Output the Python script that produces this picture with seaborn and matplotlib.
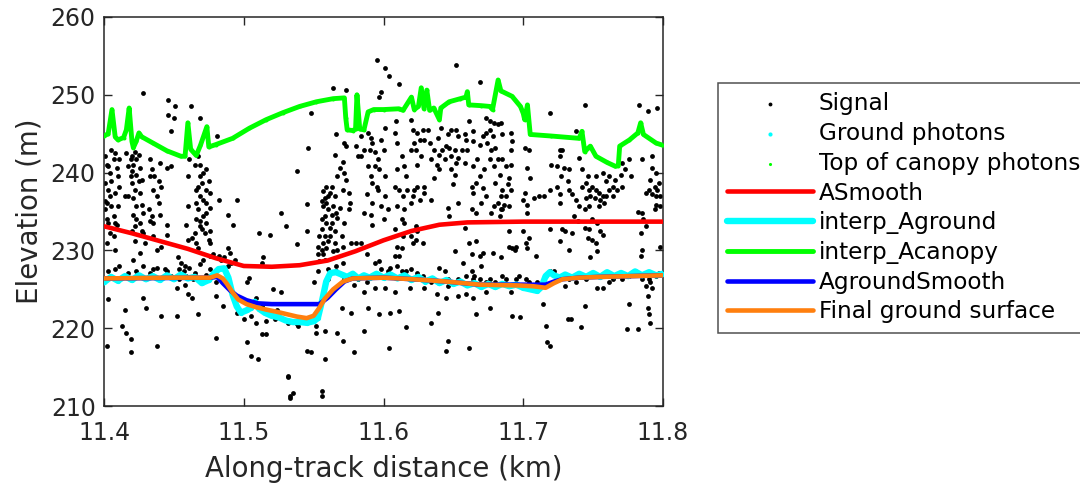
import numpy as np
import pandas as pd
import seaborn as sns
import matplotlib
matplotlib.use('Agg')
import matplotlib.pyplot as plt

# Signal photons (along-track km, elevation m)
signal_left = [
    (11.428, 250.2), (11.446, 249.3), (11.451, 248.6), (11.446, 247.4), (11.450, 247.0), (11.448, 245.3),
    (11.462, 248.5), (11.469, 247.0), (11.481, 244.7),
    (11.401, 242.1), (11.402, 241.0), (11.405, 242.9), (11.407, 241.7), (11.404, 239.9), (11.401, 238.7),
    (11.403, 237.8), (11.408, 237.4), (11.402, 236.1), (11.401, 235.3), (11.407, 234.4), (11.403, 233.5),
    (11.409, 233.3), (11.407, 231.8), (11.402, 231.0), (11.408, 230.1), (11.404, 232.3), (11.405, 235.7),
    (11.410, 239.5), (11.411, 238.2),
    (11.416, 242.5), (11.420, 242.1), (11.422, 242.7), (11.425, 242.3), (11.417, 240.8), (11.421, 241.0),
    (11.426, 240.6), (11.419, 239.5), (11.423, 239.7), (11.427, 239.1), (11.420, 238.7), (11.422, 237.8),
    (11.426, 237.4), (11.417, 237.0), (11.415, 237.0), (11.423, 235.7), (11.428, 234.8), (11.421, 234.6),
    (11.426, 233.5), (11.422, 233.1), (11.428, 232.3), (11.427, 232.5), (11.422, 231.2), (11.426, 229.7),
    (11.421, 228.8),
    (11.433, 241.7), (11.434, 240.4), (11.440, 241.2), (11.445, 240.6), (11.448, 240.8), (11.436, 239.5),
    (11.439, 238.9), (11.433, 239.5), (11.435, 237.8), (11.441, 238.2), (11.438, 237.0), (11.439, 236.1),
    (11.440, 234.6), (11.434, 234.4), (11.433, 233.8), (11.435, 233.5), (11.445, 233.3), (11.432, 235.3),
    (11.445, 232.0), (11.429, 231.0), (11.435, 231.8), (11.441, 230.5), (11.438, 230.1),
    (11.461, 241.7), (11.460, 239.5), (11.467, 242.1), (11.469, 241.0), (11.469, 239.5), (11.470, 238.7),
    (11.466, 237.8), (11.473, 240.4), (11.475, 238.9), (11.476, 237.4), (11.469, 237.0), (11.466, 236.1),
    (11.473, 236.1), (11.476, 235.5), (11.471, 234.4), (11.460, 235.7), (11.459, 233.3), (11.466, 234.0),
    (11.469, 233.8), (11.460, 231.4), (11.469, 233.1), (11.472, 232.3), (11.475, 231.4), (11.476, 231.0),
    (11.467, 230.3), (11.463, 231.6),
    (11.482, 236.5), (11.495, 236.5), (11.489, 234.6), (11.492, 233.3), (11.527, 234.8), (11.511, 232.3),
    (11.519, 232.0),
    (11.453, 229.1), (11.455, 228.4), (11.458, 228.0), (11.454, 227.6), (11.461, 227.8), (11.457, 227.3),
    (11.465, 227.1), (11.469, 228.2), (11.471, 228.8), (11.476, 229.3), (11.478, 229.5), (11.482, 229.3),
    (11.484, 228.8), (11.486, 229.1), (11.489, 230.3), (11.490, 229.7), (11.491, 228.4), (11.489, 228.0),
    (11.494, 228.8), (11.438, 227.8), (11.435, 227.6), (11.444, 227.6), (11.428, 228.0), (11.411, 228.0),
    (11.408, 227.6), (11.403, 227.3), (11.504, 226.5), (11.502, 225.9), (11.514, 229.1), (11.513, 228.4),
    (11.403, 223.7), (11.415, 222.4), (11.428, 223.9), (11.430, 222.6), (11.441, 221.6), (11.452, 221.6),
    (11.467, 221.8), (11.460, 224.4), (11.463, 223.9), (11.452, 225.2), (11.458, 225.6), (11.480, 225.9),
    (11.480, 224.1), (11.485, 222.9), (11.495, 222.0), (11.500, 221.2), (11.505, 221.6), (11.509, 220.7),
    (11.516, 220.9), (11.522, 221.2), (11.524, 222.4), (11.521, 225.0), (11.513, 222.9), (11.509, 223.9),
    (11.413, 220.3), (11.416, 219.4), (11.419, 218.6), (11.419, 216.9), (11.402, 217.7), (11.438, 217.7),
    (11.480, 218.8), (11.502, 218.2), (11.505, 216.4), (11.510, 216.0), (11.513, 219.2), (11.516, 219.2),
    (11.532, 213.9), (11.533, 211.3), (11.527, 224.6),
    (11.404, 237.0), (11.401, 236.3), (11.408, 233.5), (11.410, 235.7), (11.402, 234.0), (11.405, 238.9),
    (11.403, 240.8), (11.409, 240.6), (11.408, 242.5), (11.411, 241.7),
    (11.419, 241.7), (11.423, 241.7), (11.420, 240.2), (11.425, 238.9), (11.421, 236.7), (11.427, 235.9),
    (11.423, 234.0), (11.420, 232.5),
    (11.465, 241.0), (11.471, 239.9), (11.467, 238.2), (11.473, 237.8), (11.471, 236.5), (11.467, 235.3),
    (11.473, 234.8), (11.470, 232.7), (11.465, 232.3), (11.473, 233.5), (11.476, 232.5), (11.466, 231.0),
    (11.445, 227.3), (11.448, 226.7), (11.433, 227.1), (11.423, 227.3), (11.417, 227.1), (11.454, 226.3),
    (11.459, 226.7), (11.464, 226.3), (11.473, 226.9), (11.476, 227.6),
]

signal_mid = [
    (11.595, 254.5), (11.601, 253.4), (11.604, 252.4), (11.611, 251.4), (11.652, 253.8), (11.564, 250.9),
    (11.573, 250.6), (11.598, 250.4), (11.597, 249.7), (11.548, 247.6), (11.546, 243.2), (11.538, 240.2),
    (11.545, 236.0), (11.530, 233.1), (11.545, 232.5), (11.538, 230.8),
    (11.559, 238.2), (11.563, 238.2), (11.557, 237.6), (11.562, 237.4), (11.558, 236.7), (11.565, 237.0),
    (11.571, 237.8), (11.575, 237.4), (11.576, 236.1), (11.575, 235.3), (11.559, 236.1), (11.557, 235.7),
    (11.560, 235.3), (11.558, 234.4), (11.563, 234.6), (11.566, 234.8), (11.567, 234.2), (11.572, 233.5),
    (11.559, 233.5), (11.562, 232.9), (11.565, 232.5), (11.556, 232.7), (11.554, 231.8), (11.557, 231.0),
    (11.553, 230.5), (11.556, 230.1), (11.560, 231.2), (11.564, 229.9), (11.557, 229.5), (11.554, 228.6),
    (11.570, 231.8), (11.571, 230.5), (11.567, 230.1), (11.577, 231.0),
    (11.566, 244.9), (11.572, 243.8), (11.573, 243.4), (11.565, 242.3), (11.571, 241.4), (11.569, 240.6),
    (11.572, 239.9), (11.567, 239.5), (11.573, 239.1), (11.580, 243.4), (11.582, 242.1), (11.586, 242.9),
    (11.584, 244.7), (11.589, 245.1), (11.591, 244.4), (11.592, 243.8), (11.598, 244.2), (11.600, 242.9),
    (11.596, 241.7), (11.594, 240.8), (11.597, 240.4), (11.591, 239.5), (11.592, 238.7), (11.595, 238.2),
    (11.588, 237.2), (11.592, 236.1), (11.598, 235.7), (11.601, 237.0), (11.586, 234.8), (11.591, 234.6),
    (11.600, 234.0), (11.584, 231.0), (11.588, 229.5), (11.592, 233.3), (11.580, 231.0), (11.609, 246.6),
    (11.601, 245.7), (11.608, 245.1), (11.610, 243.8), (11.613, 242.1), (11.610, 240.4), (11.608, 238.2),
    (11.611, 237.8), (11.614, 237.0), (11.610, 235.7), (11.620, 246.8), (11.621, 245.5), (11.624, 245.1),
    (11.628, 245.5), (11.632, 245.5), (11.626, 244.2), (11.623, 242.9), (11.627, 242.1), (11.620, 242.9),
    (11.624, 241.0), (11.622, 237.8), (11.621, 237.0), (11.620, 236.1), (11.629, 238.2), (11.624, 238.2),
    (11.626, 236.5), (11.629, 237.4), (11.615, 240.8), (11.634, 241.7), (11.636, 239.3), (11.638, 241.0),
    (11.640, 242.3), (11.642, 242.9), (11.645, 243.4), (11.639, 244.4), (11.641, 245.7), (11.646, 244.9),
    (11.648, 245.5), (11.652, 245.5), (11.653, 244.7), (11.651, 242.9), (11.648, 242.1), (11.647, 243.2),
    (11.644, 241.7), (11.652, 241.2), (11.653, 241.9), (11.659, 244.2), (11.661, 246.6), (11.660, 242.9),
    (11.658, 241.2), (11.651, 239.7), (11.650, 238.5), (11.653, 236.1), (11.646, 235.5), (11.647, 234.4),
    (11.613, 234.0), (11.615, 235.3), (11.614, 231.8), (11.610, 230.5), (11.613, 230.3), (11.611, 229.3),
    (11.608, 232.7), (11.608, 229.3), (11.623, 233.1), (11.624, 232.5), (11.628, 231.0), (11.621, 231.0),
    (11.620, 231.8), (11.658, 232.9), (11.651, 229.9), (11.657, 228.4), (11.661, 231.0),
    (11.553, 227.3), (11.560, 227.6), (11.566, 228.0), (11.571, 228.4), (11.566, 227.3), (11.572, 226.3),
    (11.582, 226.3), (11.588, 225.9), (11.594, 228.4), (11.597, 228.6), (11.598, 227.6), (11.603, 227.3),
    (11.605, 227.8), (11.610, 228.0), (11.613, 227.3), (11.616, 227.3), (11.620, 227.6), (11.624, 227.1),
    (11.628, 226.7), (11.634, 225.9), (11.640, 227.8), (11.644, 227.3), (11.646, 226.3), (11.653, 226.3),
    (11.659, 226.7), (11.663, 227.3), (11.579, 225.6), (11.586, 224.6), (11.594, 225.2), (11.601, 225.2),
    (11.608, 224.6), (11.619, 225.2), (11.629, 225.2), (11.646, 225.4), (11.651, 225.9), (11.638, 224.4),
    (11.645, 223.9), (11.653, 224.1), (11.659, 224.4), (11.550, 225.9), (11.560, 226.3),
    (11.539, 220.3), (11.532, 220.7), (11.538, 220.5), (11.552, 220.3), (11.558, 219.7), (11.552, 219.4),
    (11.567, 219.4), (11.570, 222.6), (11.577, 222.0), (11.589, 222.6), (11.597, 221.8), (11.605, 222.0),
    (11.611, 222.2), (11.634, 220.7), (11.639, 222.0), (11.616, 220.1), (11.586, 219.7), (11.571, 218.4),
    (11.579, 216.9), (11.545, 217.1), (11.548, 216.9), (11.558, 216.0), (11.604, 217.5), (11.646, 218.4),
    (11.645, 217.1), (11.661, 217.5), (11.532, 213.7), (11.535, 211.7), (11.533, 211.1), (11.556, 212.0),
    (11.556, 211.3),
    (11.556, 236.3), (11.560, 237.0), (11.564, 235.7), (11.569, 235.5), (11.563, 233.5), (11.556, 234.0),
    (11.558, 231.8), (11.562, 231.8), (11.565, 231.0), (11.559, 230.3), (11.558, 228.8), (11.553, 229.5),
    (11.590, 242.9), (11.584, 242.1), (11.594, 242.7), (11.589, 240.8), (11.601, 239.5), (11.596, 237.8),
    (11.603, 235.3), (11.616, 239.5), (11.617, 237.8), (11.622, 243.8), (11.633, 243.8), (11.636, 242.9),
    (11.640, 240.4), (11.648, 240.4), (11.656, 242.9), (11.658, 244.9), (11.629, 244.2), (11.634, 236.5),
    (11.615, 233.5), (11.623, 231.4),
]

signal_right = [
    (11.669, 251.6), (11.744, 248.7), (11.783, 248.7), (11.789, 247.9), (11.796, 248.3), (11.719, 247.7),
    (11.738, 245.3),
    (11.673, 247.0), (11.676, 246.6), (11.679, 246.4), (11.682, 246.2), (11.684, 246.4), (11.676, 245.5),
    (11.673, 245.1), (11.678, 244.7), (11.671, 244.7), (11.664, 245.3), (11.664, 244.0), (11.669, 243.6),
    (11.674, 243.8), (11.677, 242.9), (11.680, 243.2), (11.685, 244.9), (11.691, 245.1), (11.692, 244.0),
    (11.691, 242.9), (11.685, 241.7), (11.682, 241.7), (11.679, 240.8), (11.688, 240.8), (11.691, 241.0),
    (11.683, 239.7), (11.690, 239.3), (11.689, 238.5), (11.691, 237.8), (11.685, 237.8), (11.684, 237.0),
    (11.682, 236.1), (11.679, 235.7), (11.685, 235.3), (11.683, 234.4), (11.677, 234.8), (11.673, 237.0),
    (11.671, 238.0), (11.666, 238.7), (11.664, 240.8), (11.669, 239.5), (11.663, 238.2), (11.664, 237.4),
    (11.663, 235.3), (11.666, 234.8), (11.701, 243.2), (11.704, 242.9), (11.703, 240.6), (11.705, 239.3),
    (11.701, 237.4), (11.700, 236.5), (11.703, 235.9), (11.703, 234.8), (11.708, 236.7), (11.711, 237.0),
    (11.715, 237.0), (11.719, 237.8), (11.720, 241.0), (11.726, 242.9), (11.728, 242.9), (11.726, 242.1),
    (11.724, 240.8), (11.729, 240.6), (11.733, 240.4), (11.727, 239.5), (11.732, 238.9), (11.724, 238.2),
    (11.726, 237.2), (11.733, 237.8), (11.735, 237.2), (11.726, 236.1), (11.738, 236.5), (11.740, 235.7),
    (11.744, 235.3), (11.740, 241.9), (11.742, 240.4), (11.746, 239.5), (11.745, 238.7), (11.749, 238.2),
    (11.752, 237.8), (11.754, 237.4), (11.757, 237.0), (11.758, 236.1), (11.755, 236.5), (11.748, 237.0),
    (11.745, 236.7), (11.747, 235.7), (11.752, 239.5), (11.757, 239.9), (11.759, 238.9), (11.761, 239.5),
    (11.761, 237.8), (11.764, 237.0), (11.766, 239.1), (11.770, 239.7), (11.771, 238.2), (11.773, 240.4),
    (11.771, 241.2), (11.776, 241.7), (11.777, 239.5), (11.785, 241.7), (11.792, 242.1), (11.792, 240.6),
    (11.795, 239.9), (11.791, 239.1), (11.794, 238.2), (11.796, 237.8), (11.792, 237.2), (11.788, 237.4),
    (11.798, 237.0), (11.795, 235.9), (11.785, 234.8), (11.786, 234.0), (11.782, 235.0), (11.736, 234.4),
    (11.739, 233.8), (11.728, 232.7), (11.730, 232.5), (11.735, 232.3), (11.726, 231.2), (11.733, 230.1),
    (11.744, 232.9), (11.746, 231.6), (11.749, 231.4), (11.752, 231.0), (11.755, 232.5), (11.757, 232.0),
    (11.753, 229.9), (11.748, 229.1), (11.753, 233.5), (11.749, 234.0), (11.747, 232.7), (11.690, 232.5),
    (11.700, 232.5), (11.704, 231.6), (11.702, 231.0), (11.703, 230.3), (11.690, 230.5), (11.692, 230.3),
    (11.694, 230.1), (11.695, 230.5), (11.678, 229.7), (11.684, 229.1), (11.671, 229.7), (11.669, 229.3),
    (11.666, 231.2), (11.663, 229.5), (11.709, 229.3), (11.719, 232.7), (11.784, 232.3), (11.785, 230.1),
    (11.784, 229.3), (11.788, 233.1), (11.798, 230.5),
    (11.664, 226.3), (11.669, 226.3), (11.673, 225.9), (11.665, 226.7), (11.680, 225.9), (11.688, 226.3),
    (11.695, 226.3), (11.697, 226.7), (11.704, 225.9), (11.710, 225.9), (11.719, 227.3), (11.722, 227.3),
    (11.724, 226.3), (11.730, 225.4), (11.738, 225.9), (11.745, 226.3), (11.751, 226.7), (11.753, 225.2),
    (11.757, 225.2), (11.761, 225.9), (11.764, 226.3), (11.771, 226.3), (11.778, 227.1), (11.780, 227.3),
    (11.785, 226.3), (11.792, 227.1), (11.797, 227.1), (11.788, 225.4), (11.790, 226.3), (11.670, 228.0),
    (11.791, 225.9),
    (11.664, 223.9), (11.673, 224.6), (11.676, 222.6), (11.666, 221.8), (11.691, 224.6), (11.692, 221.6),
    (11.698, 221.4), (11.714, 223.1), (11.716, 220.3), (11.717, 218.2), (11.719, 217.7), (11.744, 222.9),
    (11.732, 221.2), (11.734, 221.2), (11.741, 220.1), (11.776, 223.1), (11.774, 219.9), (11.782, 219.9),
    (11.789, 222.6), (11.790, 221.8), (11.791, 220.7), (11.789, 224.1), (11.792, 225.2),
    (11.676, 241.7), (11.672, 240.4), (11.680, 238.7), (11.688, 237.0), (11.686, 235.9), (11.684, 235.3),
    (11.690, 235.7), (11.667, 241.7), (11.670, 236.1), (11.742, 238.2), (11.747, 237.8), (11.751, 236.7),
    (11.754, 235.7), (11.759, 237.0), (11.764, 238.2), (11.767, 237.8), (11.795, 237.0), (11.797, 238.7),
    (11.790, 237.8), (11.798, 235.7), (11.794, 235.3),
    (11.676, 226.3), (11.685, 226.7), (11.702, 226.3), (11.733, 226.3), (11.740, 226.7), (11.757, 226.7),
    (11.769, 227.1), (11.776, 226.7), (11.795, 226.7),
]

# ASmooth (red)
asmooth_x = [11.40, 11.42, 11.44, 11.46, 11.48, 11.50, 11.52, 11.54, 11.56, 11.58, 11.60, 11.62, 11.64,
             11.66, 11.70, 11.80]
asmooth_y = [233.1, 232.2, 231.2, 230.2, 229.0, 228.0, 227.9, 228.1, 228.7, 229.9, 231.3, 232.5, 233.3,
             233.6, 233.7, 233.7]

# interp_Aground (cyan), also the ground photons
aground_x = [11.400, 11.405, 11.410, 11.415, 11.420, 11.425, 11.430, 11.435, 11.440, 11.445, 11.450,
             11.455, 11.460, 11.465, 11.470, 11.475, 11.478, 11.482, 11.486, 11.489, 11.492, 11.495,
             11.498, 11.502, 11.505, 11.508, 11.511, 11.515, 11.520, 11.525, 11.530, 11.535, 11.540,
             11.545, 11.550, 11.553, 11.556, 11.559, 11.562, 11.566, 11.570, 11.574, 11.578, 11.582,
             11.586, 11.590, 11.595, 11.600, 11.605, 11.610, 11.615, 11.620, 11.625, 11.630, 11.635,
             11.640, 11.645, 11.650, 11.655, 11.660, 11.665, 11.670, 11.675, 11.680, 11.685, 11.690,
             11.695, 11.700, 11.705, 11.710, 11.713, 11.716, 11.719, 11.722, 11.726, 11.730, 11.735,
             11.740, 11.745, 11.750, 11.755, 11.760, 11.765, 11.770, 11.775, 11.780, 11.785, 11.790,
             11.795, 11.800]
aground_y = [225.9, 226.6, 226.1, 226.7, 226.2, 226.8, 226.3, 226.7, 226.2, 226.8, 226.3,
             226.9, 226.4, 226.6, 225.8, 226.2, 226.9, 227.6, 227.7, 226.5, 224.3, 222.8,
             222.0, 222.3, 222.6, 223.4, 222.5, 222.0, 221.6, 221.4, 221.0, 220.8, 220.8,
             220.7, 220.9, 221.3, 223.5, 226.0, 227.1, 227.2, 226.9, 226.6, 227.0, 226.4,
             226.8, 226.5, 227.0, 226.5, 226.9, 226.4, 226.8, 226.2, 226.6, 226.0, 226.4,
             225.8, 226.2, 225.7, 226.0, 225.5, 225.8, 225.3, 225.7, 225.3, 225.7, 225.4,
             225.6, 225.2, 225.0, 224.8, 225.3, 226.7, 227.2, 226.8, 226.5, 226.9, 226.5,
             227.0, 226.6, 227.1, 226.6, 227.2, 226.7, 227.1, 226.7, 227.3, 226.8, 227.2,
             226.8, 227.0]

# interp_Acanopy (green), also the top of canopy photons
acanopy_x = [11.400, 11.403, 11.4057, 11.408, 11.410, 11.414, 11.416, 11.418, 11.420, 11.421, 11.423,
             11.425, 11.427, 11.435, 11.445, 11.455, 11.458, 11.460, 11.462, 11.466, 11.469, 11.4736,
             11.475, 11.480, 11.492, 11.504, 11.516, 11.528, 11.540, 11.552, 11.564, 11.572, 11.573,
             11.574, 11.578, 11.580, 11.581, 11.583, 11.586, 11.589, 11.593, 11.600, 11.611, 11.614,
             11.620, 11.622, 11.625, 11.627, 11.629, 11.631, 11.633, 11.636, 11.640, 11.641, 11.647,
             11.655, 11.659, 11.660, 11.661, 11.670, 11.676, 11.678, 11.682, 11.684, 11.692, 11.698,
             11.700, 11.701, 11.703, 11.705, 11.720, 11.740, 11.742, 11.744, 11.748, 11.752, 11.760,
             11.766, 11.768, 11.769, 11.776, 11.782, 11.784, 11.786, 11.795, 11.800]
acanopy_y = [244.7, 245.0, 248.1, 244.6, 244.2, 244.5, 245.5, 248.3, 244.0, 243.2, 244.0,
             245.1, 244.6, 243.8, 242.8, 242.1, 242.1, 246.4, 243.0, 242.2, 243.5, 245.9,
             243.3, 243.6, 244.4, 245.7, 246.8, 247.7, 248.5, 249.1, 249.5, 249.6, 247.0,
             245.5, 245.4, 245.6, 250.0, 245.6, 245.5, 247.8, 248.1, 248.1, 248.2, 248.0,
             249.7, 248.1, 248.5, 250.9, 248.2, 250.6, 248.0, 248.3, 246.8, 248.3, 249.1,
             249.5, 249.7, 250.4, 248.7, 248.6, 248.5, 248.1, 251.9, 250.5, 249.8, 248.5,
             247.6, 246.8, 248.7, 244.9, 244.7, 244.4, 245.3, 242.7, 243.4, 242.1, 241.3,
             240.8, 240.9, 243.4, 244.2, 245.1, 246.4, 244.9, 243.8, 243.5]

# AgroundSmooth (blue)
smooth_x = [11.400, 11.476, 11.481, 11.485, 11.490, 11.495, 11.502, 11.510, 11.520, 11.549, 11.554,
            11.560, 11.566, 11.572, 11.578, 11.600, 11.621, 11.645, 11.669, 11.697, 11.707, 11.716,
            11.722, 11.728, 11.740, 11.755, 11.800]
smooth_y = [226.4, 226.5, 226.6, 225.8, 224.9, 224.2, 223.6, 223.2, 223.1, 223.1, 223.1,
            223.9, 225.0, 226.0, 226.4, 226.5, 226.3, 226.0, 225.6, 225.6, 225.6, 225.6,
            226.0, 226.3, 226.5, 226.6, 226.8]

# Final ground surface (orange)
final_x = [11.400, 11.450, 11.476, 11.481, 11.485, 11.488, 11.492, 11.496, 11.502, 11.509, 11.516,
           11.524, 11.531, 11.538, 11.545, 11.550, 11.554, 11.558, 11.564, 11.571, 11.578, 11.600,
           11.621, 11.645, 11.669, 11.697, 11.707, 11.716, 11.722, 11.728, 11.740, 11.755, 11.800]
final_y = [226.4, 226.5, 226.5, 226.8, 226.4, 225.7, 224.6, 223.7, 223.1, 222.7, 222.4,
           222.1, 221.8, 221.5, 221.3, 221.6, 222.6, 223.8, 225.0, 226.0, 226.4, 226.5,
           226.3, 226.0, 225.6, 225.5, 225.4, 225.2, 225.8, 226.3, 226.5, 226.6, 226.8]

signal = pd.DataFrame(signal_left + signal_mid + signal_right, columns=['dist', 'elev'])

sns.set_theme(style='ticks')
plt.rcParams['font.family'] = ['DejaVu Sans']
ink = '#262626'

fig = plt.figure(figsize=(10.8, 4.84), dpi=100)
ax = fig.add_axes([0.0963, 0.161, 0.5176, 0.804])

sns.scatterplot(data=signal, x='dist', y='elev', color='black', s=12, linewidth=0,
                label='Signal', ax=ax, zorder=2)
sns.scatterplot(x=aground_x, y=aground_y, color='cyan', s=14, linewidth=0,
                label='Ground photons', ax=ax, zorder=3)
sns.scatterplot(x=acanopy_x, y=acanopy_y, color='#00ff00', s=8, linewidth=0,
                label='Top of canopy photons', ax=ax, zorder=3)
sns.lineplot(x=asmooth_x, y=asmooth_y, color='red', linewidth=3.3, sort=False,
             label='ASmooth', ax=ax, zorder=3)
sns.lineplot(x=aground_x, y=aground_y, color='cyan', linewidth=4.6, sort=False,
             label='interp_Aground', ax=ax, zorder=3)
sns.lineplot(x=acanopy_x, y=acanopy_y, color='#00ff00', linewidth=3.5, sort=False,
             label='interp_Acanopy', ax=ax, zorder=3)
sns.lineplot(x=smooth_x, y=smooth_y, color='#0000ff', linewidth=3.3, sort=False,
             label='AgroundSmooth', ax=ax, zorder=4)
sns.lineplot(x=final_x, y=final_y, color='#ff7f0e', linewidth=3.3, sort=False,
             label='Final ground surface', ax=ax, zorder=5)

ax.set_xlim(11.4, 11.8)
ax.set_ylim(210, 260)
ax.set_xticks([11.4, 11.5, 11.6, 11.7, 11.8])
ax.set_xticklabels(['11.4', '11.5', '11.6', '11.7', '11.8'])
ax.set_yticks(np.arange(210, 261, 10))
ax.tick_params(direction='in', top=True, right=True, length=6, width=1, colors=ink,
               labelsize=17)
ax.tick_params(axis='y', pad=6)
ax.tick_params(axis='x', pad=11)
for sp in ax.spines.values():
    sp.set_visible(True)
    sp.set_color(ink)
    sp.set_linewidth(1.1)
ax.set_xlabel('Along-track distance (km)', fontsize=19.9, color=ink, labelpad=7)
ax.set_ylabel('Elevation (m)', fontsize=19.9, color=ink, labelpad=5)

leg = ax.legend(loc='upper left', bbox_to_anchor=(1.098, 0.83), borderaxespad=0,
                fontsize=16.7, frameon=True, fancybox=False, handlelength=3.7,
                handletextpad=0.25, labelspacing=0.29, borderpad=0.4, markerscale=0.8)
leg.get_frame().set_edgecolor(ink)
leg.get_frame().set_linewidth(1.1)
for t in leg.get_texts():
    t.set_color('black')

fig.savefig('out.png', dpi=100)
